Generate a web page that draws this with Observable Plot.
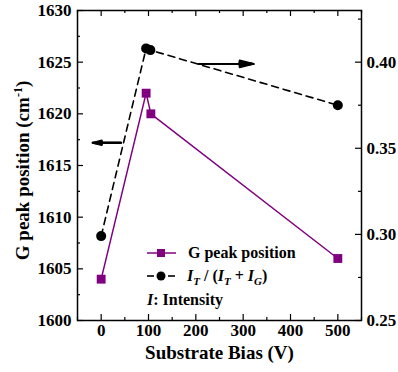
<!DOCTYPE html>
<html>
<head>
<meta charset="utf-8">
<script src="https://cdn.jsdelivr.net/npm/d3@7"></script>
<script src="https://cdn.jsdelivr.net/npm/@observablehq/plot@0.6"></script>
<style>
  html, body { margin: 0; padding: 0; background: #fff; }
</style>
</head>
<body>
<div id="chart"></div>
<script>
// Substrate bias (V) for each sample
const biasG = [0, 95, 105, 500];
const gPeak = [1604, 1622, 1620, 1606];          // G peak position (cm^-1)
const biasR = [0, 95, 104, 500];
const ratio = [0.299, 0.408, 0.407, 0.375];      // I_T / (I_T + I_G)

const xTicks = [0, 100, 200, 300, 400, 500];
const xMinor = [-50, 50, 150, 250, 350, 450, 550];
const yTicks = [1600, 1605, 1610, 1615, 1620, 1625, 1630];
const yMinor = [1602.5, 1607.5, 1612.5, 1617.5, 1622.5, 1627.5];
const rTicks = [0.25, 0.30, 0.35, 0.40];
const rMinor = [0.275, 0.325, 0.375, 0.425];

const xDomain = [-50, 550];
const yDomain = [1600, 1630];
const rDomain = [0.25, 0.43];

// Right-hand axis values are placed on the shared y scale
const toY = d3.scaleLinear().domain(rDomain).range(yDomain);

const gData = biasG.map((x, i) => ({x, y: gPeak[i]}));
const rData = biasR.map((x, i) => ({x, y: toY(ratio[i])}));

// arrows pointing each series to its axis
const arrows = [
  {x1: 42, x2: -18, y: 1617.2},
  {x1: 206, x2: 322, y: toY(0.399)}
];

const W = 398, H = 372;
const mL = 77, mR = 37, mT = 10, mB = 52;
const iw = W - mL - mR, ih = H - mT - mB;
const purple = "#800080";
const font = "Liberation Serif";

const arrowHead = (angle) => Plot.arrow(arrows, {x1: "x1", x2: "x2", y1: "y", y2: "y",
  stroke: "black", strokeWidth: 1.8, headLength: 12, headAngle: angle});

const chart = Plot.plot({
  width: W, height: H,
  marginLeft: mL, marginRight: mR, marginTop: mT, marginBottom: mB,
  x: {domain: xDomain},
  y: {domain: yDomain},
  style: {fontFamily: font, fontWeight: "bold", fontSize: "17px", color: "black", background: "white", overflow: "visible"},
  marks: [
    Plot.frame({stroke: "black", strokeWidth: 1.5}),
    // inward ticks: bottom, top
    Plot.tickX(xTicks, {x: d => d, insetTop: ih - 6, stroke: "black", strokeWidth: 1.2}),
    Plot.tickX(xMinor, {x: d => d, insetTop: ih - 3, stroke: "black", strokeWidth: 1.2}),
    Plot.tickX(xTicks, {x: d => d, insetBottom: ih - 6, stroke: "black", strokeWidth: 1.2}),
    Plot.tickX(xMinor, {x: d => d, insetBottom: ih - 3, stroke: "black", strokeWidth: 1.2}),
    // inward ticks: left
    Plot.tickY(yTicks, {y: d => d, insetRight: iw - 6, stroke: "black", strokeWidth: 1.2}),
    Plot.tickY(yMinor, {y: d => d, insetRight: iw - 3, stroke: "black", strokeWidth: 1.2}),
    // inward ticks: right
    Plot.tickY(rTicks, {y: d => toY(d), insetLeft: iw - 6, stroke: "black", strokeWidth: 1.2}),
    Plot.tickY(rMinor, {y: d => toY(d), insetLeft: iw - 3, stroke: "black", strokeWidth: 1.2}),
    // tick labels
    Plot.axisX({ticks: xTicks, tickSize: 0, tickPadding: 3, label: null, tickFormat: d => String(d),
      fontFamily: font}),
    Plot.axisY({ticks: yTicks, tickSize: 0, tickPadding: 6, label: null, tickFormat: d => String(d),
      fontFamily: font}),
    Plot.axisY(rTicks.map(toY), {anchor: "right", tickSize: 0, tickPadding: 5, label: null,
      tickFormat: d => toY.invert(d).toFixed(2), fontFamily: font}),
    // axis titles
    Plot.text(["Substrate Bias (V)"], {frameAnchor: "bottom", dy: 38, fontSize: 19, fontWeight: "bold", fontFamily: font}),
    Plot.text(["G peak position (cm-1)"], {frameAnchor: "left", textAnchor: "middle", dx: -55, dy: 5, rotate: -90,
      fontSize: 19, fontWeight: "bold", fontFamily: font}),
    // direction arrows with solid heads
    arrowHead(28), arrowHead(18), arrowHead(9),
    // ratio series
    Plot.line(rData, {x: "x", y: "y", stroke: "black", strokeWidth: 1.6, strokeDasharray: "7,5"}),
    Plot.dot(rData, {x: "x", y: "y", r: 5, fill: "black", stroke: "none"}),
    // G peak series
    Plot.line(gData, {x: "x", y: "y", stroke: purple, strokeWidth: 1.5}),
    Plot.dot(gData, {x: "x", y: "y", symbol: "square", r: 5, fill: purple, stroke: "none"})
  ]
});

document.getElementById("chart").appendChild(chart);

const svg = d3.select(chart);
svg.attr("font-family", font);
svg.selectAll("g, text").attr("font-family", font).style("font-family", font);

// superscript on the y-axis title
svg.selectAll("text").filter(function () { return this.textContent === "G peak position (cm-1)"; })
  .each(function () {
    const t = d3.select(this);
    t.text(null);
    t.append("tspan").text("G peak position (cm");
    t.append("tspan").attr("baseline-shift", "super").attr("font-size", 12).text("-1");
    t.append("tspan").text(")");
  });

// legend
const lg = svg.append("g").attr("font-family", font).attr("font-weight", "bold")
  .attr("font-size", 16).attr("text-anchor", "start").attr("fill", "black");
const lx = 147, row1 = 253, row2 = 276, row3 = 299;
lg.append("line").attr("x1", lx).attr("x2", lx + 29).attr("y1", row1).attr("y2", row1)
  .attr("stroke", purple).attr("stroke-width", 1.5);
lg.append("rect").attr("x", lx + 10).attr("y", row1 - 4).attr("width", 8).attr("height", 8).attr("fill", purple);
lg.append("text").attr("x", 188).attr("y", row1 + 5).attr("font-family", font).text("G peak position");

lg.append("line").attr("x1", lx).attr("x2", lx + 7).attr("y1", row2).attr("y2", row2)
  .attr("stroke", "black").attr("stroke-width", 1.6);
lg.append("line").attr("x1", lx + 21).attr("x2", lx + 28).attr("y1", row2).attr("y2", row2)
  .attr("stroke", "black").attr("stroke-width", 1.6);
lg.append("circle").attr("cx", lx + 14).attr("cy", row2).attr("r", 4.5).attr("fill", "black");
const t2 = lg.append("text").attr("x", 187).attr("y", row2 + 5).attr("font-family", font);
const sub = (s) => t2.append("tspan").attr("font-style", "italic").attr("font-size", 11).attr("dy", 4).text(s);
t2.append("tspan").attr("font-style", "italic").text("I");
sub("T");
t2.append("tspan").attr("dy", -4).text(" / (");
t2.append("tspan").attr("font-style", "italic").text("I");
sub("T");
t2.append("tspan").attr("dy", -4).text(" + ");
t2.append("tspan").attr("font-style", "italic").text("I");
sub("G");
t2.append("tspan").attr("dy", -4).text(")");

const t3 = lg.append("text").attr("x", 147).attr("y", row3 + 6).attr("font-family", font);
t3.append("tspan").attr("font-style", "italic").text("I");
t3.append("tspan").text(": Intensity");
</script>
</body>
</html>
